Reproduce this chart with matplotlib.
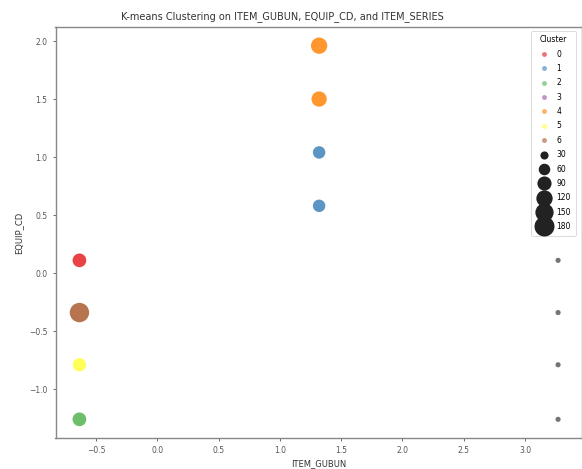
import numpy as np
import matplotlib.pyplot as plt
from matplotlib.lines import Line2D

# clustered points (ITEM_GUBUN, EQUIP_CD, cluster id, count)
item_gubun = [1.32, 1.32, 1.32, 1.32, -0.636, -0.636, -0.636, -0.636]
equip_cd = [1.96, 1.50, 1.04, 0.58, 0.11, -0.34, -0.79, -1.26]
cluster = [4, 4, 1, 1, 0, 6, 5, 2]
counts = [120, 105, 70, 70, 85, 170, 80, 85]

# small grey points on the right
other_x = [3.27, 3.27, 3.27, 3.27]
other_y = [0.11, -0.34, -0.79, -1.26]
other_counts = [12, 12, 12, 12]

cluster_ids = [0, 1, 2, 3, 4, 5, 6]
palette = ['#e41a1c', '#377eb8', '#4daf4a', '#984ea3', '#ff7f00', '#ffff33', '#a65628']
size_levels = [30, 60, 90, 120, 150, 180]
size_scale = 1.15

fig = plt.figure(figsize=(5.82, 4.69), dpi=100)
ax = fig.add_axes([55.5/582, 1-438/469, (582-55.5)/582, (438-27)/469])

cols = [palette[c] for c in cluster]
ax.scatter(item_gubun + other_x, equip_cd + other_y,
           s=[c*size_scale for c in counts + other_counts],
           c=cols + ['#555555']*len(other_x), alpha=0.82, edgecolors='none')

fig.text(282/582, 1-17/469, 'K-means Clustering on ITEM_GUBUN, EQUIP_CD, and ITEM_SERIES',
         fontsize=7, color='#333333', ha='center', va='center')
ax.set_xlabel('ITEM_GUBUN', fontsize=6, color='#333333', labelpad=3)
ax.set_ylabel('EQUIP_CD', fontsize=6, color='#333333')
ax.set_xticks([-0.5, 0.0, 0.5, 1.0, 1.5, 2.0, 2.5, 3.0])
ax.set_yticks([-1.0, -0.5, 0.0, 0.5, 1.0, 1.5, 2.0])
ax.tick_params(labelsize=5.5, colors='#555555', length=2.5, width=0.6)
for s in ax.spines.values():
    s.set_color('#888888')
    s.set_linewidth(1.0)

handles = []
labels = []
for cid, col in zip(cluster_ids, palette):
    handles.append(Line2D([], [], marker='o', ls='', color=col, alpha=0.6, markersize=3.5, markeredgewidth=0))
    labels.append(str(cid))
for lv in size_levels:
    handles.append(Line2D([], [], marker='o', ls='', color='#222222', markersize=np.sqrt(lv*size_scale), markeredgewidth=0))
    labels.append(str(lv))
leg = ax.legend(handles, labels, title='Cluster', loc='upper right', fontsize=5.5, title_fontsize=5.5,
                frameon=True, labelspacing=0.7, handletextpad=0.5, borderpad=0.6, handlelength=2.2,
                bbox_to_anchor=(0.995, 1.0))
leg.get_frame().set_edgecolor('#cccccc')
leg.get_frame().set_linewidth(0.6)

fig.savefig('out.png', dpi=100)
